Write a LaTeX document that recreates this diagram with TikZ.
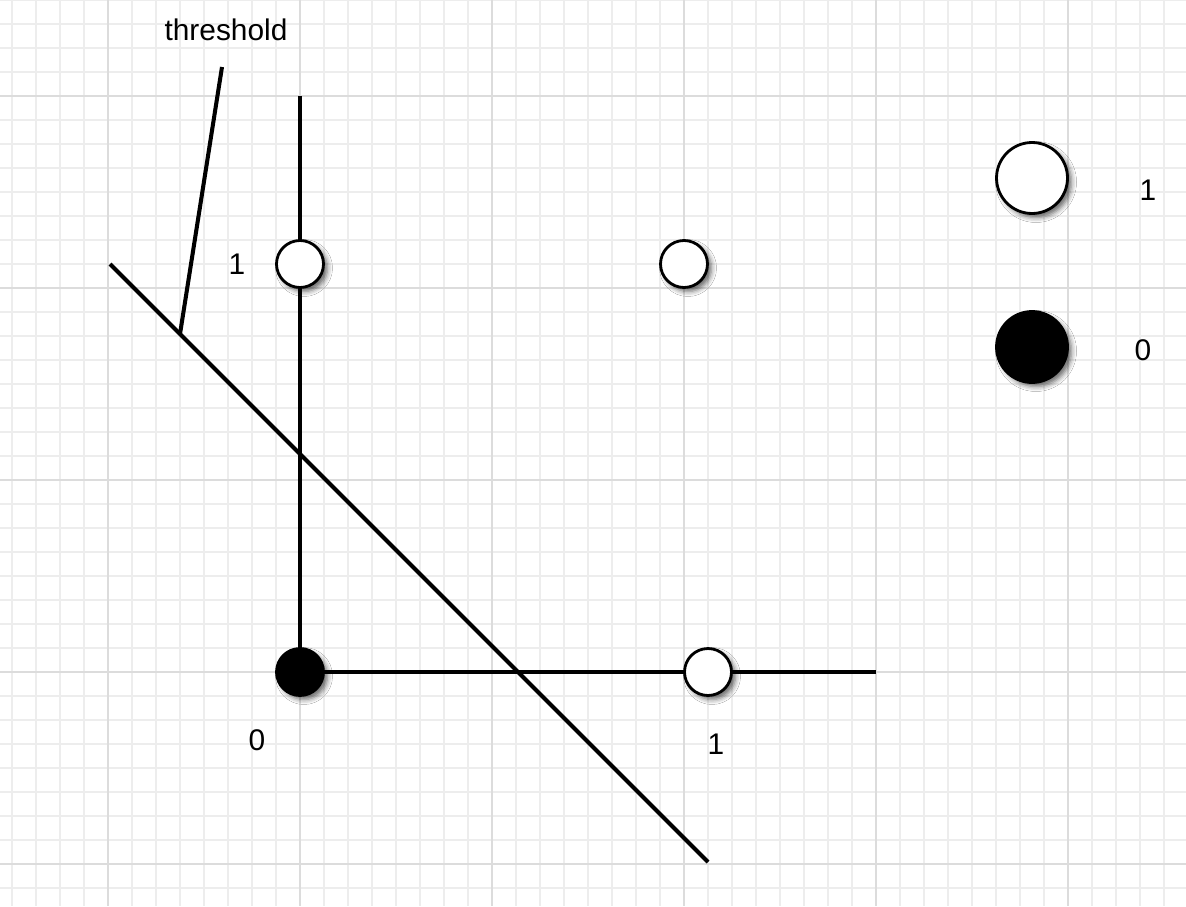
\documentclass[tikz,border=0pt]{standalone}
\usepackage{fontspec}
\setmainfont{Liberation Sans}
\usetikzlibrary{shadows.blur}
\definecolor{minorgrid}{HTML}{EDEDED}
\definecolor{majorgrid}{HTML}{DCDCDC}
\tikzset{
  minorline/.style={draw=minorgrid, line width=1.5pt},
  majorline/.style={draw=majorgrid, line width=1.5pt},
  axisline/.style={draw=black, line width=2.3pt},
  dot/.style={circle, draw=black, line width=1.6pt, inner sep=0pt,
    blur shadow={shadow xshift=0.08cm, shadow yshift=-0.08cm,
      shadow blur radius=0.1cm, shadow opacity=60}},
  smalldot/.style={dot, minimum size=0.94cm},
  bigdot/.style={dot, minimum size=1.42cm},
  whitedot/.style={fill=white},
  blackdot/.style={fill=black},
  lbl/.style={font=\fontsize{17}{20}\selectfont, inner sep=0pt}
}
\begin{document}
\begin{tikzpicture}[x=0.02cm, y=-0.02cm]
  \useasboundingbox (0,0) rectangle (1186,906);
  \fill[white] (0,0) rectangle (1186,906);
  % grid paper
  \foreach \gx in {12,36,...,1188} \draw[minorline] (\gx,0) -- (\gx,906);
  \foreach \gy in {0,24,...,900} \draw[minorline] (0,\gy) -- (1186,\gy);
  \foreach \gx in {108,300,...,1068} \draw[majorline] (\gx,0) -- (\gx,906);
  \foreach \gy in {96,288,...,864} \draw[majorline] (0,\gy) -- (1186,\gy);

  % anchor points
  \coordinate (ytop) at (300,96);
  \coordinate (xend) at (876,672);
  \coordinate (o) at (300,672);
  \coordinate (a) at (300,264);
  \coordinate (b) at (684,264);
  \coordinate (c) at (708,672);
  \coordinate (thA) at (110,264);
  \coordinate (thB) at (708,862);
  \coordinate (ptrTop) at (222,67);
  \coordinate (ptrFoot) at (180,334);

  % axes and decision boundary
  \draw[axisline] (ytop) -- (o) -- (xend);
  \draw[axisline] (thA) -- (thB);
  \draw[axisline] (ptrTop) -- (ptrFoot);

  % inputs
  \node[smalldot, blackdot] (n00) at (o) {};
  \node[smalldot, whitedot] (n01) at (a) {};
  \node[smalldot, whitedot] (n11) at (b) {};
  \node[smalldot, whitedot] (n10) at (c) {};

  % legend
  \node[bigdot, whitedot] (legOne) at (1032,178) {};
  \node[bigdot, blackdot] (legZero) at (1032,347) {};

  % labels
  \node[lbl] (tthr) at (226,30) {threshold};
  \node[lbl] (ty1) at (237,264) {1};
  \node[lbl] (tx0) at (257,740) {0};
  \node[lbl] (tx1) at (716,744) {1};
  \node[lbl] (tl1) at (1148,190) {1};
  \node[lbl] (tl0) at (1143,350) {0};
\end{tikzpicture}
\end{document}
